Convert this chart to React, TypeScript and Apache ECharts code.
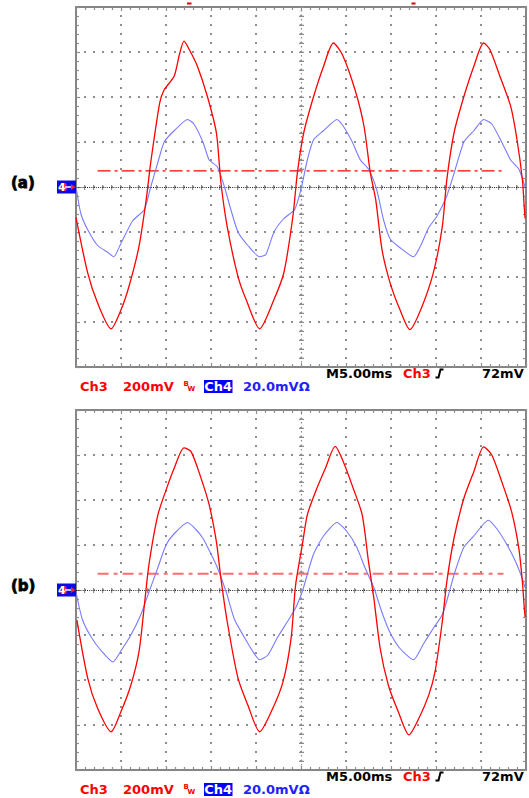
import React, { useEffect, useRef } from 'react';
import * as echarts from 'echarts';

// ---- Data: time (ms) vs voltage (mV) read from the two scope captures ----
const RED_A: [number, number][] = [
  [0, -136], [1.3, -382], [2.4, -516], [3.9, -630], [5.0, -546], [5.9, -440], [7.0, -264], [7.8, -56],
  [8.3, 108], [9.3, 374], [9.8, 432], [10.9, 492], [11.5, 590], [12.0, 648], [12.6, 610], [13.5, 536],
  [14.6, 402], [15.6, 240], [16.1, 20], [16.8, -176], [18.0, -398], [18.9, -500], [20.4, -630],
  [22.0, -500], [23.1, -380], [24.1, -130], [24.6, 64], [25.3, 240], [26.4, 402], [27.5, 536],
  [28.6, 640], [29.6, 588], [31.0, 432], [32.0, 270], [32.7, 64], [33.3, -56], [34.0, -278],
  [34.9, -426], [36.0, -546], [37.1, -634], [38.3, -546], [39.7, -382], [40.7, -176], [41.2, 32],
  [42.0, 240], [43.1, 402], [44.2, 536], [45.3, 640], [46.0, 610], [47.1, 492], [48.3, 358],
  [49.0, 210], [49.6, 32], [49.8, -86], [49.9, -140],
];
const BLUE_A: [number, number][] = [
  [0, 0], [0.55, -12], [1.3, -19], [2.4, -26], [3.5, -29], [4.2, -31], [5.0, -25], [6.3, -15],
  [7.6, -10], [8.3, 0], [9.1, 11], [9.8, 20], [10.9, 25], [12.4, 30], [13.1, 28], [14.1, 20],
  [14.8, 12], [15.7, 9], [16.5, 0], [17.2, -10], [18.0, -20], [19.1, -26], [20.4, -31], [21.1, -30],
  [22.0, -20], [23.1, -14], [24.3, -10], [25.0, -1], [25.7, 12], [26.4, 21], [27.5, 25], [29.0, 30],
  [29.7, 27], [30.7, 20], [31.6, 12], [32.5, 8], [33.4, -1], [34.2, -15], [34.9, -23], [36.0, -27],
  [37.5, -31], [38.3, -26], [39.2, -18], [40.1, -13], [41.2, -4], [42.0, 6], [43.1, 20], [44.2, 25],
  [45.3, 30], [46.2, 28], [47.3, 20], [48.3, 12], [49.2, 8], [49.9, 0],
];
const RED_B: [number, number][] = [
  [0.1, -134], [1.3, -392], [2.4, -526], [3.9, -630], [5.0, -540], [6.1, -422], [7.0, -274],
  [7.6, -66], [8.1, 112], [9.1, 334], [10.2, 466], [10.9, 540], [12.0, 632], [12.8, 614],
  [13.9, 496], [14.8, 378], [15.6, 214], [16.1, 52], [16.8, -140], [18.0, -392], [19.1, -512],
  [20.4, -630], [21.7, -540], [23.0, -408], [23.9, -214], [24.4, 22], [25.2, 214], [25.7, 334],
  [26.6, 436], [27.7, 540], [28.8, 638], [29.7, 570], [30.8, 452], [31.8, 334], [32.5, 126],
  [33.1, -38], [33.8, -260], [34.7, -422], [35.8, -540], [37.0, -644], [38.1, -570], [39.2, -466],
  [39.9, -362], [40.7, -140], [41.2, 36], [42.0, 230], [43.1, 408], [44.2, 526], [45.3, 636],
  [46.2, 600], [47.3, 482], [48.4, 348], [49.2, 186], [49.6, 36], [49.8, -74], [49.9, -120],
];
const BLUE_B: [number, number][] = [
  [0, -1], [0.7, -13], [1.7, -21], [2.8, -27], [4.1, -32], [5.0, -27], [6.1, -20], [7.2, -11],
  [8.1, -1], [9.1, 10], [10.0, 20], [10.9, 25], [12.4, 30], [13.3, 27], [14.1, 23], [15.0, 16],
  [15.7, 10], [16.7, -1], [17.6, -13], [18.7, -21], [19.6, -27], [20.4, -31], [21.3, -29],
  [22.4, -21], [23.5, -14], [24.4, -8], [25.2, 0], [25.7, 7], [26.4, 16], [27.5, 24], [29.0, 30],
  [30.1, 26], [31.2, 19], [32.1, 10], [33.1, 1], [34.0, -10], [34.9, -19], [36.0, -26], [37.5, -31],
  [38.6, -24], [39.7, -17], [40.7, -11], [41.4, -2], [42.1, 8], [43.1, 19], [44.2, 24], [45.8, 31],
  [46.8, 27], [47.9, 20], [48.8, 13], [49.6, 5], [49.9, 1],
];
const TRIG_LEVEL_MV = 72;
const TRIG_SPAN_MS = [2.4, 47.5];
const TIME_MIN = 0, TIME_MAX = 50, TIME_DIV = 5;
const CH3_MAX = 800, CH3_DIV = 200;
const CH4_MAX = 80, CH4_DIV = 20;
const PANEL_LABELS = ['(a)', '(b)'];
const TEXT_TIMEBASE = 'M5.00ms';
const TEXT_CH3 = 'Ch3';
const TEXT_CH3_SCALE = '200mV';
const TEXT_CH4 = 'Ch4';
const TEXT_CH4_SCALE = '20.0mV\u03a9';
const TEXT_TRIG = '72mV';

const LEFT = 76, W = 450, H = 360;
const PANEL_TOPS = [7, 410];
const FONT = '"DejaVu Sans", "Liberation Sans", sans-serif';
const GRID_GRAY = '#8e8e8e';
const BORDER_GRAY = '#858585';

function buildOption() {
  const grids: any[] = [];
  const xAxes: any[] = [];
  const yAxes: any[] = [];
  const series: any[] = [];
  const graphics: any[] = [];

  const sets = [
    { red: RED_A, blue: BLUE_A, trig: { color: '#ff0000', width: 1.3, dash: [13, 4, 3, 4] } },
    { red: RED_B, blue: BLUE_B, trig: { color: '#ff6e6e', width: 2, dash: [11, 5, 4, 5] } },
  ];

  sets.forEach((s, g) => {
    const top = PANEL_TOPS[g];
    grids.push({ left: LEFT, top, width: W, height: H, show: false });
    const tickStyle = { color: '#8e8e8e', width: 1.2 };
    const gridLine = { color: GRID_GRAY, width: 2, type: [2, 7], dashOffset: 1 };
    const baseX = {
      gridIndex: g, type: 'value', min: TIME_MIN, max: TIME_MAX, interval: TIME_DIV,
      axisLabel: { show: false },
      axisLine: { show: true, onZero: false, lineStyle: { color: BORDER_GRAY, width: 2 } },
      axisTick: { show: true, inside: true, length: 4, lineStyle: tickStyle },
      minorTick: { show: true, splitNumber: 5, length: 3, lineStyle: tickStyle },
    };
    xAxes.push({ ...baseX, position: 'bottom', splitLine: { show: true, lineStyle: gridLine } });
    xAxes.push({ ...baseX, position: 'top', splitLine: { show: false } });
    const baseY = {
      gridIndex: g, type: 'value',
      axisLabel: { show: false },
      axisLine: { show: true, onZero: false, lineStyle: { color: BORDER_GRAY, width: 2 } },
      axisTick: { show: true, inside: true, length: 4, lineStyle: tickStyle },
      minorTick: { show: true, splitNumber: 5, length: 3, lineStyle: tickStyle },
    };
    yAxes.push({ ...baseY, position: 'left', min: -CH3_MAX, max: CH3_MAX, interval: CH3_DIV,
      splitLine: { show: true, lineStyle: gridLine } });
    yAxes.push({ ...baseY, position: 'right', min: -CH4_MAX, max: CH4_MAX, interval: CH4_DIV,
      splitLine: { show: false } });

    const xi = 2 * g, yRed = 2 * g, yBlue = 2 * g + 1;
    series.push({
      type: 'line', xAxisIndex: xi, yAxisIndex: yRed, silent: true, symbol: 'none', z: 2,
      data: [[TRIG_SPAN_MS[0], TRIG_LEVEL_MV], [TRIG_SPAN_MS[1], TRIG_LEVEL_MV]],
      lineStyle: { color: s.trig.color, width: s.trig.width, type: s.trig.dash },
      markLine: {
        silent: true, symbol: ['none', 'none'], label: { show: false }, z: 1,
        data: [
          { yAxis: 0, lineStyle: { color: '#8e8e8e', width: 5, type: [1.2, 7.8], dashOffset: 0.6 } },
          { yAxis: 0, lineStyle: { color: '#222', width: 1, type: [1, 1.2] } },
          { xAxis: (TIME_MIN + TIME_MAX) / 2, lineStyle: { color: '#8e8e8e', width: 5, type: [1.2, 7.8], dashOffset: 0.6 } },
          { xAxis: (TIME_MIN + TIME_MAX) / 2, lineStyle: { color: '#8e8e8e', width: 1.2, type: [1.5, 3] } },
        ],
      },
    });
    series.push({
      type: 'line', xAxisIndex: xi, yAxisIndex: yBlue, silent: true, symbol: 'none', smooth: 0.2, z: 3,
      data: s.blue, lineStyle: { color: '#7a7aff', width: 1.1 },
    });
    series.push({
      type: 'line', xAxisIndex: xi, yAxisIndex: yRed, silent: true, symbol: 'none', smooth: 0.25, z: 4,
      data: s.red, lineStyle: { color: '#ff0000', width: 1.3 },
    });

    // ---- texts / decorations ----
    const cy = top + H / 2;
    const pb = top + H;
    const txt = (text: string, x: number, y: number, fill: string, size = 13, extra: any = {}) => ({
      type: 'text', x, y, silent: true, z: 10,
      style: { text, fill, font: `bold ${size}px ${FONT}`, align: 'left', verticalAlign: 'middle',
        textAlign: 'left', textVerticalAlign: 'middle', ...extra },
    });
    graphics.push(txt(PANEL_LABELS[g], 11, cy - 4, '#000', 15, { stroke: '#000', lineWidth: 0.8 }));
    // channel ground marker
    graphics.push({ type: 'rect', shape: { x: 57, y: cy - 6.5, width: 19, height: 13 }, style: { fill: '#0a0ae6' }, z: 10, silent: true });
    graphics.push(txt('3', 59.5, cy, '#ff2020', 11));
    graphics.push(txt('4', 58, cy, '#ffffff', 11));
    graphics.push({ type: 'line', shape: { x1: 65, y1: cy, x2: 71.5, y2: cy }, style: { stroke: '#ffffff', lineWidth: 1.5 }, z: 10, silent: true });
    graphics.push({ type: 'polygon', shape: { points: [[71, cy - 3], [75.5, cy], [71, cy + 3]] }, style: { fill: '#ff2020' }, z: 10, silent: true });
    // row 1
    const r1 = pb + 6.5;
    graphics.push(txt(TEXT_TIMEBASE, 326, r1, '#000'));
    graphics.push(txt(TEXT_CH3, 403, r1, '#ff0000'));
    graphics.push({ type: 'polyline', shape: { points: [[435.5, r1 + 4], [438.5, r1 + 4], [440.5, r1 - 4], [443.5, r1 - 4]] },
      style: { stroke: '#000', lineWidth: 2, fill: null }, z: 10, silent: true });
    graphics.push(txt(TEXT_TRIG, 482, r1, '#000'));
    // row 2
    const r2 = pb + 19.5;
    graphics.push(txt(TEXT_CH3, 80, r2, '#ff0000'));
    graphics.push(txt(TEXT_CH3_SCALE, 123, r2, '#ff0000'));
    graphics.push(txt('B', 183.5, r2 - 3, '#ff0000', 7));
    graphics.push(txt('W', 187.5, r2 + 2, '#ff0000', 7));
    graphics.push({ type: 'rect', shape: { x: 204, y: r2 - 6.5, width: 28.5, height: 13 }, style: { fill: '#0000ff' }, z: 9, silent: true });
    graphics.push(txt(TEXT_CH4, 204.3, r2, '#ffffff'));
    graphics.push(txt(TEXT_CH4_SCALE, 243, r2, '#2222ff'));
    if (g === 0) {
      graphics.push({ type: 'rect', shape: { x: 187, y: 2.5, width: 4.5, height: 2 }, style: { fill: '#e00000' }, z: 10, silent: true });
      graphics.push({ type: 'rect', shape: { x: 411.5, y: 2.5, width: 4, height: 2 }, style: { fill: '#e00000' }, z: 10, silent: true });
    }
  });

  return {
    animation: false,
    backgroundColor: '#ffffff',
    textStyle: { fontFamily: FONT },
    grid: grids,
    xAxis: xAxes,
    yAxis: yAxes,
    series,
    graphic: graphics,
  };
}

export default function App() {
  const ref = useRef<HTMLDivElement>(null);
  useEffect(() => {
    if (!ref.current) return;
    const chart = echarts.init(ref.current, undefined, { renderer: 'svg' });
    chart.setOption(buildOption() as any);
    return () => chart.dispose();
  }, []);
  return (
    <div
      ref={ref}
      style={{ position: 'fixed', left: 0, top: 0, width: 529, height: 798, background: '#fff' }}
    />
  );
}
